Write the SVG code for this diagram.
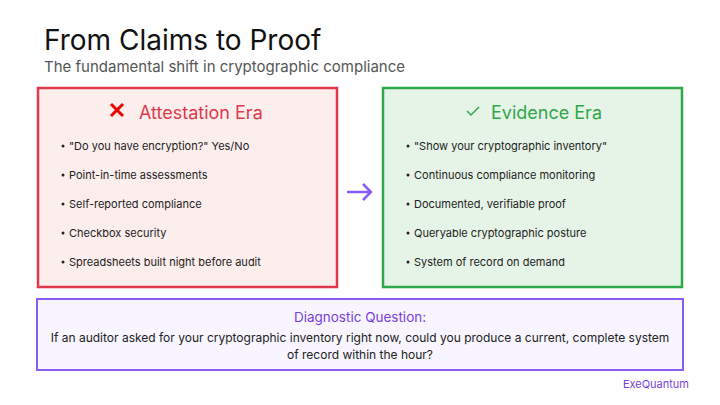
<svg xmlns="http://www.w3.org/2000/svg" width="720" height="405" viewBox="0 0 720 405">
<style>
text{font-family:Inter,"Liberation Sans",sans-serif}
.b{font-size:11px;fill:#222}
.h{font-size:18px}
</style>
<rect width="720" height="405" fill="#fff"/>
<text x="44" y="50" font-size="28" fill="#111">From Claims to Proof</text>
<text x="44" y="72" font-size="15" fill="#555">The fundamental shift in cryptographic compliance</text>
<g id="attestation">
<rect x="38" y="88" width="299" height="199" fill="#fdeeee" stroke="#e0394b" stroke-width="2.5"/>
<path d="M111 104l12 12M123 104l-12 12" stroke="#e00" stroke-width="3"/>
<text class="h" x="139" y="119" fill="#e0394b">Attestation Era</text>
<circle cx="63" cy="146" r="1.5" fill="#222"/><text class="b" x="69" y="150">"Do you have encryption?" Yes/No</text>
<circle cx="63" cy="175" r="1.5" fill="#222"/><text class="b" x="69" y="179">Point-in-time assessments</text>
<circle cx="63" cy="204" r="1.5" fill="#222"/><text class="b" x="69" y="208">Self-reported compliance</text>
<circle cx="63" cy="233" r="1.5" fill="#222"/><text class="b" x="69" y="237">Checkbox security</text>
<circle cx="63" cy="262" r="1.5" fill="#222"/><text class="b" x="69" y="266">Spreadsheets built night before audit</text>
</g>
<g id="connectors">
<path d="M347 192h24M363 184l8 8-8 8" fill="none" stroke="#8a5cf5" stroke-width="2.5"/>
</g>
<g id="evidence">
<rect x="383" y="88" width="299" height="199" fill="#e6f4e8" stroke="#2fa84a" stroke-width="2.5"/>
<path d="M467 111l4 4 8-8" fill="none" stroke="#2fa84a" stroke-width="1.5"/>
<text class="h" x="491" y="119" fill="#2fa84a">Evidence Era</text>
<circle cx="408" cy="146" r="1.5" fill="#222"/><text class="b" x="414" y="150">"Show your cryptographic inventory"</text>
<circle cx="408" cy="175" r="1.5" fill="#222"/><text class="b" x="414" y="179">Continuous compliance monitoring</text>
<circle cx="408" cy="204" r="1.5" fill="#222"/><text class="b" x="414" y="208">Documented, verifiable proof</text>
<circle cx="408" cy="233" r="1.5" fill="#222"/><text class="b" x="414" y="237">Queryable cryptographic posture</text>
<circle cx="408" cy="262" r="1.5" fill="#222"/><text class="b" x="414" y="266">System of record on demand</text>
</g>
<g id="question">
<rect x="37" y="299" width="646" height="71" fill="#f8f5ff" stroke="#8a5cf5" stroke-width="2"/>
<text x="360" y="322" font-size="13.5" fill="#7a3fe0" text-anchor="middle">Diagnostic Question:</text>
<text x="360" y="342" font-size="12" fill="#222" text-anchor="middle">If an auditor asked for your cryptographic inventory right now, could you produce a current, complete system</text>
<text x="360" y="359" font-size="12" fill="#222" text-anchor="middle">of record within the hour?</text>
</g>
<text x="689" y="388" font-size="11" fill="#7a3fe0" text-anchor="end">ExeQuantum</text>
</svg>
